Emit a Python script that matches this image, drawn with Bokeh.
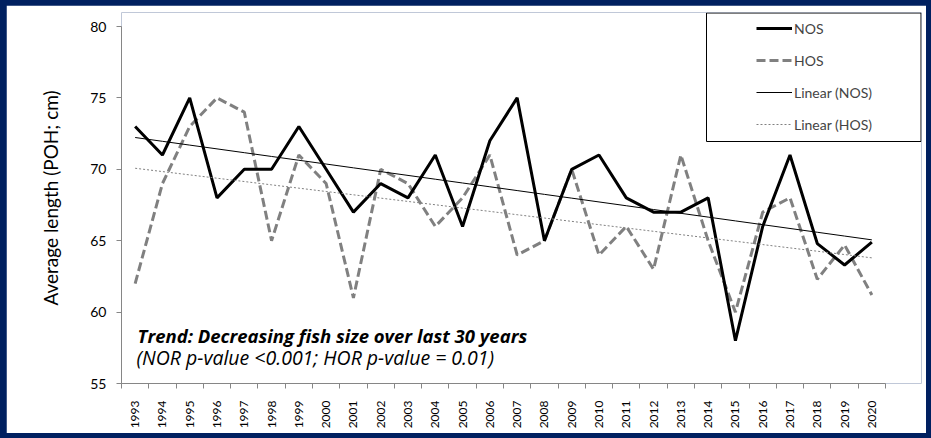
import math
import numpy as np
from bokeh.plotting import figure
from bokeh.layouts import column
from bokeh.models import FixedTicker, Legend, LegendItem, BoxAnnotation, Label, Range1d
from bokeh.embed import file_html
from bokeh.resources import INLINE

# ---- data ----
years = list(range(1993, 2021))
nos = [73, 71, 75, 68, 70, 70, 73, 70, 67, 69, 68, 71, 66, 72, 75,
       65, 70, 71, 68, 67, 67, 68, 58, 66, 71, 64.8, 63.3, 64.9]
hos = [62, 69, 73, 75, 74, 65, 71, 69, 61, 70, 69, 66, 68, 71, 64,
       65, 70, 64, 66, 63, 71, 65, 60, 67, 68, 62.3, 64.7, 61.2]
y_ticks = [55, 60, 65, 70, 75, 80]
series_names = ["NOS", "HOS", "Linear (NOS)", "Linear (HOS)"]
trend_text = "Trend: Decreasing fish size over last 30 years"
pval_text = "(NOR p-value <0.001; HOR p-value = 0.01)"
y_label = "Average length (POH; cm)"

# linear trends fitted to the series
yr = np.array(years, dtype=float)
k_n, b_n = np.polyfit(yr, np.array(nos), 1)
k_h, b_h = np.polyfit(yr, np.array(hos), 1)
trend_nos = list(k_n * yr + b_n)
trend_hos = list(k_h * yr + b_h)

AXIS_GRAY = "#868686"
FONT = "Lato"

# figure sits inside a dark-blue frame (padding 5px, 6px on the left)
W, H = 920, 428
BL, BR, BT, BB = 115, 5, 7, 50
FW, FH = W - BL - BR, H - BT - BB          # 800 x 371
X_PX = 764 / 28                             # px per year on the axis
Y_PX = 357 / 25                             # px per cm on the axis
x0 = years[0] - 0.5
x1 = x0 + FW / X_PX                         # frame extends past the axis end (legend room)
y0 = y_ticks[0]
y1 = y0 + FH / Y_PX

p = figure(width=W, height=H,
           x_range=Range1d(x0, x1), y_range=Range1d(y0, y1),
           output_backend="svg", toolbar_location=None,
           min_border_left=BL, min_border_right=BR,
           min_border_top=BT, min_border_bottom=BB)
p.outline_line_color = None
p.grid.visible = False
p.border_fill_color = "white"
p.background_fill_color = "white"

r_hos = p.line(years, hos, line_color="#808080", line_width=3, line_dash="9 4")
r_nos = p.line(years, nos, line_color="black", line_width=3)
r_tn = p.line(years, trend_nos, line_color="black", line_width=1)
r_th = p.line(years, trend_hos, line_color="#808080", line_width=1, line_dash="2 2")

# x axis
xa = p.xaxis[0]
xa.bounds = (years[0] - 0.5, years[-1] + 0.5)
xa.ticker = FixedTicker(ticks=years,
                        minor_ticks=[y - 0.5 for y in years] + [years[-1] + 0.5])
xa.axis_line_color = AXIS_GRAY
xa.major_tick_line_color = None
xa.major_tick_out = 0
xa.major_tick_in = 0
xa.minor_tick_line_color = AXIS_GRAY
xa.minor_tick_out = 5
xa.minor_tick_in = 0
xa.major_label_orientation = math.pi / 2
xa.major_label_standoff = 12
xa.major_label_text_font = FONT
xa.major_label_text_font_size = "12px"
xa.major_label_text_color = "black"

# y axis
ya = p.yaxis[0]
ya.bounds = (y_ticks[0], y_ticks[-1])
ya.ticker = FixedTicker(ticks=y_ticks)
ya.axis_line_color = AXIS_GRAY
ya.major_tick_line_color = AXIS_GRAY
ya.major_tick_out = 5
ya.major_tick_in = 0
ya.minor_tick_line_color = None
ya.major_label_standoff = 10
ya.major_label_text_font = FONT
ya.major_label_text_font_size = "14px"
ya.major_label_text_color = "black"
ya.axis_label = y_label
ya.axis_label_text_font = FONT
ya.axis_label_text_font_size = "19px"
ya.axis_label_text_font_style = "normal"
ya.axis_label_text_color = "black"
ya.axis_label_standoff = 25

# legend (location is relative to the frame's bottom-left corner)
legend = Legend(items=[LegendItem(label=series_names[0], renderers=[r_nos]),
                       LegendItem(label=series_names[1], renderers=[r_hos]),
                       LegendItem(label=series_names[2], renderers=[r_tn]),
                       LegendItem(label=series_names[3], renderers=[r_th])],
                location=(629, FH - 128), padding=6, spacing=12, margin=0,
                glyph_width=36, glyph_height=20, label_height=20,
                label_standoff=2, label_text_font=FONT,
                label_text_font_size="14px", border_line_alpha=0,
                background_fill_alpha=0)
p.add_layout(legend)

# legend frame
box = BoxAnnotation(left=585, right=FW - 0.5, bottom=FH - 129, top=FH - 0.5,
                    left_units="screen", right_units="screen",
                    bottom_units="screen", top_units="screen",
                    fill_alpha=0, line_color="black", line_width=1, line_alpha=1)
p.add_layout(box)

p.add_layout(Label(x=1993.09, y=58.36, text=trend_text, text_font="Open Sans",
                   text_font_style="bold italic", text_font_size="18.5px",
                   text_baseline="alphabetic", text_color="black"))
p.add_layout(Label(x=1993.05, y=56.84, text=pval_text, text_font="Open Sans",
                   text_font_style="italic", text_font_size="19.5px",
                   text_baseline="alphabetic", text_color="black"))

page = column(p, styles={"background-color": "#002060",
                         "padding": "5px 5px 5px 6px"})

open("out.html", "w").write(file_html(page, INLINE))
